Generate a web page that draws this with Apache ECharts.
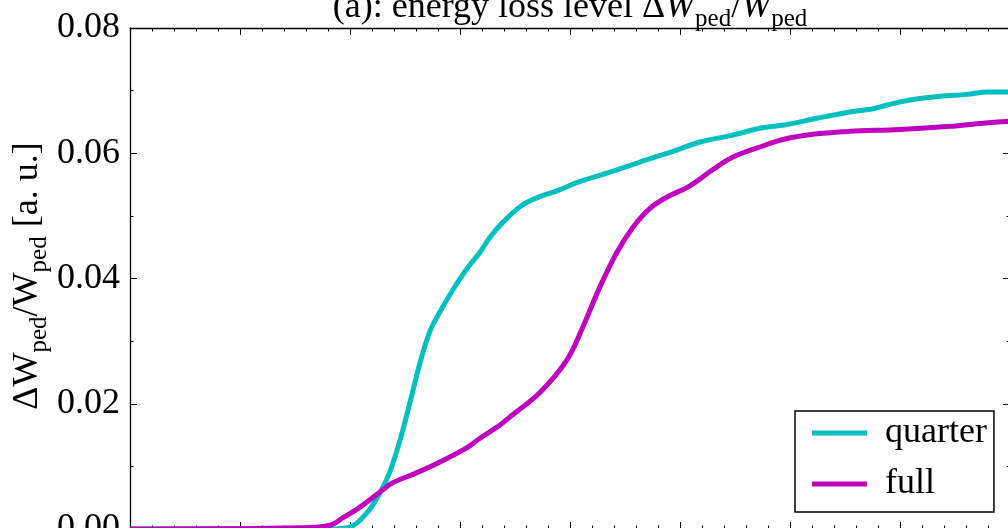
<!DOCTYPE html>
<html>
<head>
<meta charset="utf-8">
<script src="https://cdn.jsdelivr.net/npm/echarts@6/dist/echarts.min.js"></script>
<style>
  html, body { margin: 0; padding: 0; width: 1008px; height: 528px; overflow: hidden; background: #fff; }
  #chart { position: absolute; left: 0; top: 0; width: 1100px; height: 600px; }
</style>
</head>
<body>
<div id="chart"></div>
<script>
// Energy loss level of the pedestal, quarter vs full case
const quarterX = [0, 1.82, 2.0, 2.155, 2.273, 2.364, 2.455, 2.545, 2.636, 2.727, 2.818, 2.936, 3.064, 3.182, 3.273, 3.391, 3.564, 3.727, 3.882, 4.091, 4.364, 4.636, 4.936, 5.182, 5.482, 5.727, 5.973, 6.245, 6.545, 6.755, 6.882, 7.091, 7.364, 7.609, 7.791, 8.0];
const quarterY = [0, 0, 0.0003, 0.0026, 0.0058, 0.0092, 0.0142, 0.0202, 0.0265, 0.0316, 0.0347, 0.0382, 0.0416, 0.0442, 0.0466, 0.049, 0.0517, 0.0531, 0.054, 0.0555, 0.057, 0.0586, 0.0603, 0.0618, 0.0629, 0.064, 0.0646, 0.0656, 0.0666, 0.0671, 0.0677, 0.0685, 0.0691, 0.0694, 0.0698, 0.0698];

const fullX = [0, 1.545, 1.818, 1.936, 2.091, 2.273, 2.391, 2.609, 2.818, 3.064, 3.182, 3.364, 3.455, 3.727, 3.973, 4.118, 4.273, 4.427, 4.573, 4.727, 4.882, 5.091, 5.3, 5.482, 5.727, 5.936, 6.245, 6.545, 7.0, 7.455, 7.755, 8.0];
const fullY = [0, 0.0002, 0.0006, 0.0018, 0.0035, 0.0059, 0.0074, 0.009, 0.0107, 0.013, 0.0145, 0.0166, 0.0179, 0.0218, 0.027, 0.0323, 0.0387, 0.0442, 0.0482, 0.0512, 0.053, 0.0548, 0.0574, 0.0594, 0.061, 0.0622, 0.0631, 0.0635, 0.0638, 0.0643, 0.0648, 0.0651];

const seriesNames = ['quarter', 'full'];
const seriesColors = ['#00bfbf', '#bf00bf'];
const yTicks = [0, 0.02, 0.04, 0.06, 0.08];

const FONT = 'Liberation Serif';
const pairs = (xs, ys) => xs.map((x, i) => [x, ys[i]]);

const tickCommon = { show: true, inside: true, length: 7, lineStyle: { color: '#000', width: 1 } };
const minorCommon = { show: true, length: 3.5, lineStyle: { color: '#000', width: 1 } };
const lineCommon = { show: true, onZero: false, lineStyle: { color: '#000', width: 1.3 } };

const xBase = {
  type: 'value', min: 0, max: 8, interval: 1,
  axisLine: lineCommon, axisTick: tickCommon,
  minorTick: Object.assign({ splitNumber: 5 }, minorCommon),
  splitLine: { show: false }, axisLabel: { show: false }
};
const yBase = {
  type: 'value', min: yTicks[0], max: yTicks[yTicks.length - 1], interval: 0.02,
  axisLine: lineCommon, axisTick: tickCommon,
  minorTick: Object.assign({ splitNumber: 2 }, minorCommon),
  splitLine: { show: false }
};

// rich text styles: normal, italic and lowered subscript
const rich = {
  n: { fontFamily: FONT, fontSize: 36, lineHeight: 36, verticalAlign: 'top', color: '#000' },
  i: { fontFamily: FONT, fontSize: 36, lineHeight: 36, verticalAlign: 'top', fontStyle: 'italic', color: '#000' },
  s: { fontFamily: FONT, fontSize: 25, verticalAlign: 'top', padding: [17, 0, 0, 0], color: '#000' }
};

const chart = echarts.init(document.getElementById('chart'), null, { renderer: 'canvas' });
chart.setOption({
  animation: false,
  backgroundColor: '#fff',
  grid: { left: 130, top: 28, width: 880, height: 501 },
  xAxis: [
    Object.assign({ position: 'bottom' }, xBase),
    Object.assign({ position: 'top' }, xBase)
  ],
  yAxis: [
    Object.assign({ position: 'left', axisLabel: {
      show: true, margin: 10, color: '#000', fontFamily: FONT, fontSize: 36,
      formatter: v => v.toFixed(2)
    } }, yBase),
    Object.assign({ position: 'right', axisLabel: { show: false } }, yBase)
  ],
  legend: {
    left: 795, top: 411,
    orient: 'vertical',
    data: seriesNames,
    icon: 'rect',
    itemWidth: 55, itemHeight: 5, itemGap: 15,
    padding: [4, 7, 10, 17],
    borderColor: '#000', borderWidth: 1.5,
    backgroundColor: '#fff',
    textStyle: { fontFamily: FONT, fontSize: 36, lineHeight: 36, color: '#000', padding: [0, 0, 0, 13] }
  },
  graphic: [
    {
      type: 'text', x: 570, y: -10,
      style: {
        text: '{n|(a): energy loss level Δ}{i|W}{s|ped}{n|/}{i|W}{s|ped}',
        rich: rich, align: 'center', verticalAlign: 'top'
      }
    },
    {
      type: 'text', x: 31, y: 276, rotation: Math.PI / 2,
      style: {
        text: '{n|ΔW}{s|ped}{n|/W}{s|ped}{n| [a. u.]}',
        rich: rich, align: 'center', verticalAlign: 'middle'
      }
    }
  ],
  series: seriesNames.map((name, k) => ({
    name: name,
    type: 'line',
    xAxisIndex: 0, yAxisIndex: 0,
    data: k === 0 ? pairs(quarterX, quarterY) : pairs(fullX, fullY),
    showSymbol: false,
    smooth: 0.35,
    color: seriesColors[k],
    lineStyle: { width: 5, color: seriesColors[k] },
    z: 2 + k
  }))
});
</script>
</body>
</html>
